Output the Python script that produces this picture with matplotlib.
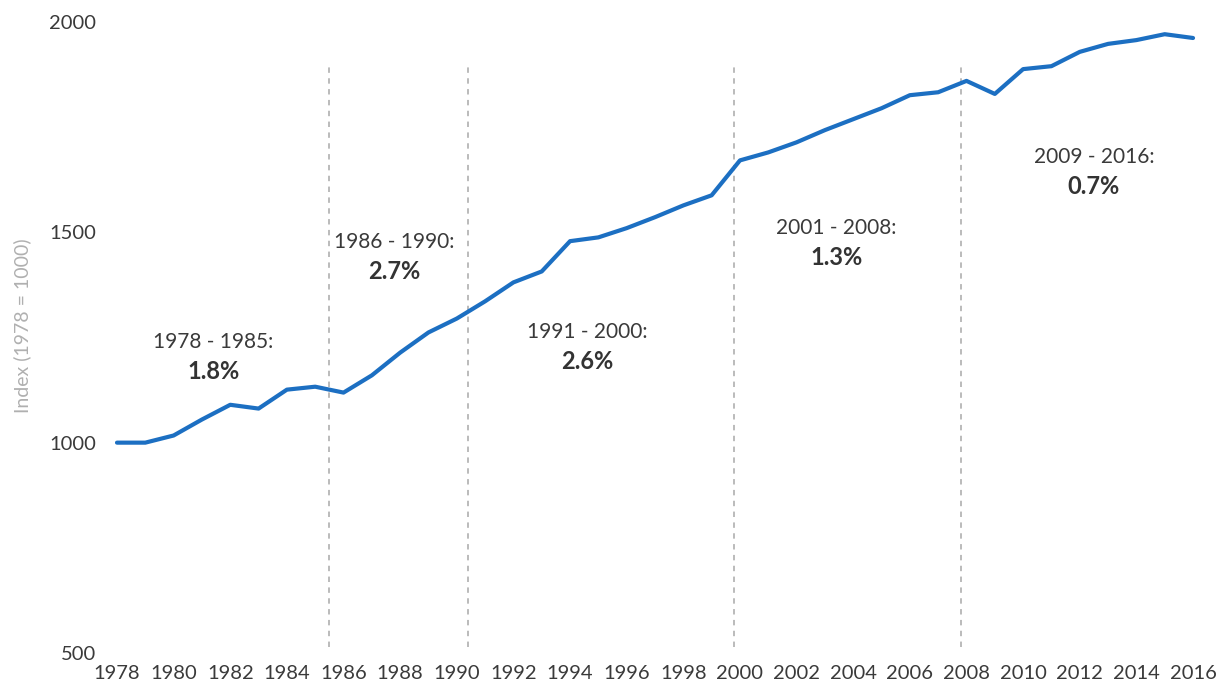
import numpy as np
import matplotlib as mpl
mpl.use('Agg')
import matplotlib.pyplot as plt

plt.rcParams['font.family'] = ['Lato', 'DejaVu Sans']

years = np.arange(1978, 2017)
index = [1000, 1000, 1017, 1055, 1090, 1081, 1126, 1133, 1119, 1160,
         1214, 1262, 1295, 1336, 1381, 1407, 1479, 1488, 1510, 1536,
         1564, 1588, 1671, 1690, 1714, 1743, 1769, 1795, 1826, 1833,
         1860, 1829, 1888, 1895, 1929, 1948, 1957, 1971, 1962]

breaks = [1985.5, 1990.4, 1999.8, 2007.8]

periods = ['1978 - 1985:', '1986 - 1990:', '1991 - 2000:', '2001 - 2008:', '2009 - 2016:']
rates = ['1.8%', '2.7%', '2.6%', '1.3%', '0.7%']
label_x = [1981.4, 1987.8, 1994.6, 2003.4, 2012.5]
label_y = [1240, 1476, 1262, 1510, 1679]

fig = plt.figure(figsize=(12.25, 6.92), dpi=100)
ax = fig.add_axes([0.0955, 0.0564, 0.8784, 0.9118])

ax.vlines(breaks, 515, 1900, colors='#b5b5b5', linestyles=(0, (3, 3)), linewidth=1.3)
ax.plot(years, index, color='#1c6fc2', linewidth=3.0, solid_capstyle='round',
        solid_joinstyle='round', clip_on=False, zorder=3)

for x, y, p, r in zip(label_x, label_y, periods, rates):
    ax.text(x, y, p, ha='center', va='center', fontsize=15, color='#3a3a3a')
    ax.text(x, y - 70, r, ha='center', va='center', fontsize=17, color='#333333', fontweight='bold')

ax.set_xlim(1978, 2016)
ax.set_ylim(500, 2000)
ax.set_xticks(np.arange(1978, 2017, 2))
ax.set_yticks([500, 1000, 1500, 2000])
ax.tick_params(length=0, labelsize=14.5, labelcolor='#3a3a3a')
ax.tick_params(axis='y', pad=15)
ax.tick_params(axis='x', pad=9)
for s in ax.spines.values():
    s.set_visible(False)

fig.text(0.018, 0.53, 'Index (1978 = 1000)', rotation=90, ha='center', va='center',
         fontsize=14, color='#b0b0b0')

plt.savefig('out.png', dpi=100)
